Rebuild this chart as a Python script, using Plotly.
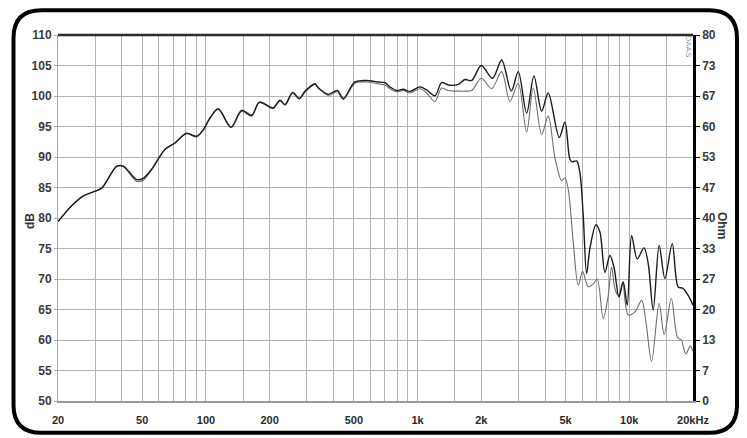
import plotly.graph_objects as go

# ---- data ----
freq_on = [20, 23.2, 26.3, 30, 32.2, 37.9, 40.7, 47.1, 50.5, 55.4, 64, 71.4, 81, 90.4, 97.3, 104,
           114.3, 131.3, 147.5, 164.4, 178.6, 200.6, 208, 223.9, 236.3, 256.9, 276, 293.6, 327.3,
           339.4, 378.3, 417.3, 445.5, 505.7, 574.3, 651.7, 700.8, 740, 796, 855.6, 920, 1026,
           1103, 1208, 1299, 1396, 1556, 1673, 1800, 2000, 2260, 2494, 2770, 2988, 3274, 3544,
           3854, 4140, 4666, 4966, 5244, 5376, 5640, 5846, 6058, 6288, 6516, 6956, 7266, 7672,
           8100, 8460, 8934, 9362, 9778, 10258, 10900, 11730, 12290, 12970, 13840, 14730, 15960,
           17020, 17860, 18980, 20000]
spl_on = [79.4, 82.0, 83.6, 84.4, 84.9, 88.5, 88.5, 86.3, 86.5, 88.0, 91.25, 92.3, 93.9, 93.4, 94.5, 96.3,
          97.9, 94.9, 97.65, 96.85, 99.0, 98.2, 98.05, 99.3, 98.6, 100.6, 99.6, 100.76, 102.0,
          101.3, 100.3, 100.9, 99.6, 102.3, 102.55, 102.3, 102.2, 101.5, 100.9, 101.1, 100.76, 101.5,
          101.0, 100.05, 102.2, 101.8, 101.9, 102.7, 102.55, 105.0, 102.9, 105.9, 100.8, 104.0, 97.2, 103.3,
          97.5, 100.5, 93.2, 95.7, 89.6, 89.2, 89.35, 87.4, 80.4, 70.9, 75.0, 78.9, 77.7, 71.1,
          73.85, 72.0, 67.1, 69.5, 65.7, 77.1, 73.3, 75.1, 72.5, 64.9, 75.5, 70.1, 75.8,
          68.7, 68.5, 67.3, 65.7]

freq_off = [20, 23.2, 26.3, 30, 32.2, 37.9, 40.7, 47.1, 50.5, 55.4, 64, 71.4, 81, 90.4, 97.3, 104,
            114.3, 131.3, 147.5, 164.4, 178.6, 200.6, 208, 223.9, 236.3, 256.9, 276, 293.6, 327.3,
            339.4, 378.3, 417.3, 445.5, 505.7, 574.3, 651.7, 700.8, 740, 796, 855.6, 920, 1026,
            1103, 1208, 1299, 1396, 1556, 1673, 1800, 2000, 2238, 2494, 2730, 2988, 3274, 3518,
            3854, 4140, 4454, 4790, 4966, 5148, 5436, 5740, 6020, 6398, 6756, 7056, 7532, 7952,
            8252, 8554, 8962, 9300, 9886, 10630, 11440, 11980, 12750, 13840, 14620, 15800, 16900,
            17600, 18500, 19400, 20000]
spl_off = [79.4, 82.0, 83.6, 84.4, 84.9, 88.4, 88.4, 86.0, 86.2, 87.9, 91.2, 92.3, 93.8, 93.3, 94.4, 96.2,
           97.8, 94.8, 97.5, 96.7, 98.9, 98.1, 97.9, 99.2, 98.5, 100.4, 99.5, 100.6, 101.9,
           101.4, 100.1, 100.7, 99.4, 102.1, 102.3, 102.0, 101.8, 101.2, 100.7, 100.9, 100.5, 101.2,
           100.5, 99.1, 101.3, 100.9, 100.8, 100.8, 100.9, 102.9, 101.2, 104.0, 99.1, 102.1, 94.1, 101.3,
           93.7, 96.7, 89.9, 86.1, 86.6, 84.7, 76.0, 69.0, 71.25, 68.7, 69.2, 70.0, 63.5, 67.3,
           72.0, 68.4, 67.1, 69.5, 64.1, 64.6, 66.5, 63.0, 56.5, 66.0, 60.9, 66.8, 60.4,
           60.0, 57.7, 59.0, 58.1]

grid_freqs = [20, 30, 40, 50, 60, 70, 80, 90, 100, 150, 200, 300, 400, 500, 600, 700, 800, 900,
              1000, 1500, 2000, 3000, 4000, 5000, 6000, 7000, 8000, 9000, 10000, 15000, 20000]
x_labels = {20: "20", 50: "50", 100: "100", 200: "200", 500: "500", 1000: "1k", 2000: "2k",
            5000: "5k", 10000: "10k", 20000: "20kHz"}
db_ticks = list(range(50, 111, 5))
ohm_tickvals = [i * 80 / 12 for i in range(13)]
ohm_ticktext = ["0", "7", "13", "20", "27", "33", "40", "47", "53", "60", "67", "73", "80"]

# ---- figure ----
W, H = 747, 438
L, R, T, B = 58, 693, 35, 403

fig = go.Figure()
fig.add_trace(go.Scatter(x=freq_off, y=spl_off, mode="lines",
                         line=dict(color="#6e6e6e", width=1.1, shape="spline", smoothing=0.9),
                         hoverinfo="skip", showlegend=False))
fig.add_trace(go.Scatter(x=freq_on, y=spl_on, mode="lines",
                         line=dict(color="#1c1c1c", width=1.4, shape="spline", smoothing=0.9),
                         hoverinfo="skip", showlegend=False))
fig.add_trace(go.Scatter(x=[None], y=[None], yaxis="y2", mode="lines",
                         hoverinfo="skip", showlegend=False))

def px(xp):
    return (xp - L) / (R - L)

def py(yp):
    return (B - yp) / (B - T)

# rounded frame
x0, x1, y0, y1, r = 13.5, 737, 10, 435, 28
path = (f"M {px(x0+r)},{py(y0)} L {px(x1-r)},{py(y0)} Q {px(x1)},{py(y0)} {px(x1)},{py(y0+r)} "
        f"L {px(x1)},{py(y1-r)} Q {px(x1)},{py(y1)} {px(x1-r)},{py(y1)} "
        f"L {px(x0+r)},{py(y1)} Q {px(x0)},{py(y1)} {px(x0)},{py(y1-r)} "
        f"L {px(x0)},{py(y0+r)} Q {px(x0)},{py(y0)} {px(x0+r)},{py(y0)} Z")

shapes = [
    dict(type="path", xref="paper", yref="paper", path=path,
         line=dict(color="#000000", width=4), layer="above"),
    dict(type="line", xref="paper", yref="paper", x0=0, x1=1, y0=1, y1=1,
         line=dict(color="#2a2a2a", width=2.5), layer="above"),
]

tick_font = dict(family="Liberation Sans, Arial, sans-serif", size=12, color="#3a3a3a", weight="bold")
xtick_font = dict(family="Liberation Sans, Arial, sans-serif", size=11, color="#2a2a2a", weight="bold")

fig.update_layout(
    width=W, height=H, autosize=False,
    margin=dict(l=L, r=W - R, t=T, b=H - B, pad=0),
    paper_bgcolor="white", plot_bgcolor="white",
    xaxis=dict(type="log", range=[1.30103, 4.30103],
               tickmode="array", tickvals=grid_freqs,
               ticktext=[x_labels.get(f, "") for f in grid_freqs],
               showgrid=True, gridcolor="#b4b4b4", gridwidth=1.2,
               showline=True, linecolor="#9a9a9a", linewidth=1.5,
               ticks="", ticklabelstandoff=8, tickfont=xtick_font, zeroline=False),
    yaxis=dict(range=[50, 110], tickmode="array", tickvals=db_ticks,
               showgrid=True, gridcolor="#b4b4b4", gridwidth=1.2,
               showline=True, linecolor="#a8a8a8", linewidth=1,
               ticks="outside", ticklen=3, tickcolor="#a8a8a8",
               tickfont=tick_font, zeroline=False),
    yaxis2=dict(range=[0, 80], overlaying="y", side="right",
                tickmode="array", tickvals=ohm_tickvals, ticktext=ohm_ticktext,
                showgrid=False, showline=True, linecolor="#000000", linewidth=2.5,
                ticks="outside", ticklen=4, tickcolor="#000000",
                tickfont=tick_font, zeroline=False),
    shapes=shapes,
    annotations=[
        dict(text="dB", xref="paper", yref="paper", x=px(30), y=py(222), textangle=-90,
             showarrow=False, xanchor="center", yanchor="middle",
             font=dict(family="Liberation Sans, Arial, sans-serif", size=12, color="#333333", weight="bold")),
        dict(text="Ohm", xref="paper", yref="paper", x=px(722), y=py(226), textangle=90,
             showarrow=False, xanchor="center", yanchor="middle",
             font=dict(family="Liberation Sans, Arial, sans-serif", size=12, color="#333333", weight="bold")),
        dict(text="DAAS", xref="paper", yref="paper", x=px(688.5), y=py(46), textangle=90,
             showarrow=False, xanchor="center", yanchor="middle",
             font=dict(family="Liberation Sans, Arial, sans-serif", size=8, color="#9a9a9a")),
    ],
)

fig.write_html("out.html", config={"displayModeBar": False},
               post_script="document.body.style.margin='0';document.body.style.overflow='hidden';")
